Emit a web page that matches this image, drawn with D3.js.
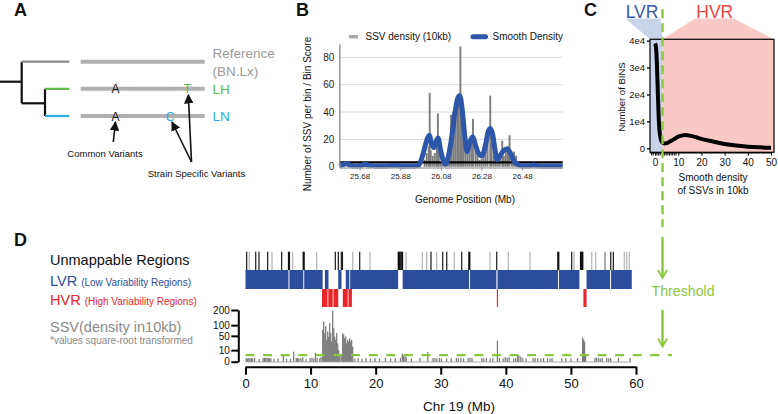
<!DOCTYPE html>
<html><head><meta charset="utf-8">
<script src="https://cdn.jsdelivr.net/npm/d3@7"></script>
<style>
body{margin:0;background:#fff;}
svg{display:block;font-family:"Liberation Sans",Arial,Helvetica,sans-serif;}
</style></head><body>
<svg id="chart" width="778" height="414"></svg>
<script>
// ================= DATA =================
const threshold = 3.2;

// Panel A (schematic)
const strains = ["Reference", "LH", "LN"];
const strainLabels = [["Reference", "(BN.Lx)"], ["LH"], ["LN"]];
const variants = [
  {strain: "LH", pos: 0.28, letter: "A", kind: "common"},
  {strain: "LN", pos: 0.28, letter: "A", kind: "common"},
  {strain: "LH", pos: 0.86, letter: "T", kind: "specific"},
  {strain: "LN", pos: 0.72, letter: "C", kind: "specific"}
];

// Panel B
const bXTicks = [25.68, 25.88, 26.08, 26.28, 26.48];
const bYTicks = [0, 20, 40, 60, 80];
const bSsvDensity = [
  [26.00,5],[26.01,10],[26.02,15],[26.025,54],[26.03,12],[26.04,8],[26.05,10],[26.06,15],
  [26.065,39],[26.07,12],[26.08,3],[26.09,2],[26.10,5],[26.11,8],[26.12,15],[26.13,38],
  [26.14,40],[26.15,45],[26.16,50],[26.168,52],[26.176,88],[26.183,40],[26.19,20],[26.20,12],
  [26.21,10],[26.22,18],[26.23,20],[26.238,35],[26.25,12],[26.26,8],[26.27,5],[26.28,6],
  [26.29,10],[26.30,15],[26.31,22],[26.323,52],[26.33,18],[26.34,8],[26.35,5],[26.36,6],
  [26.37,10],[26.382,19],[26.39,8],[26.40,12],[26.41,15],[26.418,23],[26.43,10],[26.44,11],
  [26.45,8],[26.46,3]
];
const bSmooth = [
  [25.58,0.5],[25.60,1.5],[25.616,2.2],[25.635,1],[25.66,0.4],[25.69,1],[25.706,1.8],[25.73,0.8],
  [25.78,0.3],[25.82,0.5],[25.86,0.8],[25.90,0.4],[25.94,0.3],[25.97,1],[25.99,8],[26.008,18],
  [26.023,23],[26.036,16],[26.046,14],[26.056,18],[26.066,21],[26.08,11],[26.093,4],[26.103,2],
  [26.116,7],[26.132,20],[26.15,40],[26.163,50],[26.173,52],[26.185,42],[26.198,22],[26.209,11],
  [26.222,18],[26.237,22],[26.25,16],[26.265,10],[26.283,8],[26.30,16],[26.314,26],[26.324,28],
  [26.336,23],[26.347,12],[26.357,5],[26.372,8],[26.39,12],[26.407,13],[26.422,10],[26.44,4],
  [26.46,1.5],[26.48,0.5],[26.51,0.5],[26.536,1.2],[26.56,0.5],[26.60,0.3],[26.68,0.3]
];

// Panel C
const cXTicks = [0, 10, 20, 30, 40, 50];
const cYTicks = [0, 10000, 20000, 30000, 40000];
const cRug = [-1.5,-0.8,0.8,1.5,2.2,3.4,4.1,4.8,5.5,6.2,6.9,7.6,8.3,9.0];
const cBinCounts = [
  [0,39000],[0.4,37500],[0.8,31000],[1.2,20000],[1.6,10500],[2.0,5800],[2.5,3200],[3,2200],
  [4,1800],[5,1900],[6,2300],[8,3300],[10,4300],[12,4800],[13,4900],[15,4700],[18,4000],
  [20,3500],[25,2500],[30,1600],[35,1000],[40,600],[45,350],[50,200]
];

// Panel D
const dXTicks = [0, 10, 20, 30, 40, 50, 60];
const dYTicks = [0, 10, 50, 100, 200];
const unmappable = [
  [0.18,"d"],[0.58,"l"],[1.57,"d"],[2.07,"d"],[3.41,"d"],[4.07,"l"],[5.56,"d"],[6.68,"D"],
  [7.25,"l"],[8.94,"D"],[10.94,"l"],[13.8,"d"],[14.26,"d"],[14.72,"d"],[14.9,"d"],[16.47,"l"],
  [17.55,"d"],[19.13,"l"],[23.5,"B"],[23.7,"B"],[23.9,"B"],[24.1,"B"],[24.66,"l"],[27.17,"l"],
  [27.84,"l"],[28.5,"d"],[29.38,"l"],[30.3,"d"],[30.92,"d"],[32.08,"l"],[33.22,"d"],[34.39,"D"],
  [37.57,"l"],[38.6,"d"],[40.38,"l"],[43.72,"l"],[48.06,"D"],[50.12,"d"],[50.48,"l"],
  [51.55,"D"],[51.75,"D"],[53.2,"l"],[53.81,"l"],[55.24,"m"],[56.12,"d"],[56.52,"d"],
  [58.2,"l"],[58.57,"l"],[58.97,"l"]
];
const lvrSegments = [
  [0,6.6],[6.75,8.88],[9.02,11.85],[12.2,12.75],[14.25,14.75],[15.4,15.95],[16.08,23.45],
  [24.15,34.35],[34.5,38.55],[38.72,48.02],[48.17,51.3],[52.4,56.02],[56.17,59.35]
];
const hvrSegments = [
  [11.75,12.6],[12.72,13.4],[13.52,14.25],[14.95,15.7],[15.82,16.35],[38.62,38.8],[51.92,52.4]
];
const dSsv = [
  [0.1,1],[0.3,0.8],[0.5,1],[0.7,0.8],[0.9,1],[1.1,0.8],[1.4,1],[2.1,0.5],[2.7,1],[2.9,1.2],
  [3.1,1],[3.3,1.2],[3.5,1],[3.7,1],[3.9,0.8],[4.4,0.6],[5.0,0.8],[5.8,2.5],[6.3,0.7],[6.9,0.6],
  [7.4,7.5],[7.8,1],[8.0,1],[8.2,0.8],[8.5,1],[8.8,1.5],[9.3,0.6],[9.9,1],[10.2,1.2],[10.5,0.8],
  [10.75,6],[11.0,1],[11.4,0.8],[11.6,1.5],
  [11.86,76],[12.01,121],[12.17,61],[12.32,93],[12.47,36],[12.63,68],[12.78,47],[12.93,111],
  [13.09,61],[13.24,30],[13.39,195],[13.55,84],[13.70,47],[13.86,36],[14.01,61],[14.16,25],[14.32,10],
  [14.5,4],[14.7,3],
  [14.93,61],[15.08,54],[15.24,41],[15.39,47],[15.54,25],[15.70,36],[15.85,30],[16.00,41],
  [16.16,30],[16.31,36],[16.47,17],
  [16.8,0.8],[17.3,1],[17.9,0.7],[18.5,1],[19.2,0.8],[19.9,1],[20.6,0.7],[21.5,1],[22.3,0.8],
  [23.0,1],[23.8,1.2],[24.1,5],[24.3,3],[24.5,2],[24.7,1.5],
  [25.5,0.8],[26.8,1],[28.0,7],[28.8,1],[29.1,1],[29.4,0.8],[29.8,1],[30.1,0.8],[30.9,0.8],
  [31.6,1],[32.4,1],[32.7,0.8],[33.1,1],[33.5,0.8],[34.2,1],[34.5,1.2],[34.8,1],[36.3,1],
  [36.6,0.8],[37.0,1],[37.6,0.8],[38.0,1],[38.7,33],[39.0,1],[39.6,0.8],[39.9,1.5],[40.2,1.2],
  [40.5,1.5],[41.2,0.8],[41.5,1],[41.8,2.5],[42.0,3],[42.3,2],[42.6,1],[43.1,0.8],[44.2,1],
  [44.5,1],[44.9,1],[45.4,0.8],[45.8,1],[46.4,1],[46.8,0.8],[47.1,1],[48.6,0.8],[49.2,1],
  [50.0,0.8],[51.0,1],[51.8,44],[51.95,36],[52.1,30],[52.25,3],[53.7,1],[53.9,1.2],[54.2,1],
  [54.5,0.8],[54.8,1],[55.5,1],[55.8,0.8],[56.1,1],[57.3,1],[59.1,1]
];

// ================= DRAW =================
const svg = d3.select("#chart");
const GREEN = "#8cc63f", LBLUE = "#29abe2", LGREEN = "#5cb848";
const DBLUE = "#2c4c9c", RED = "#e8262b";

svg.append("defs").append("marker")
  .attr("id","arr").attr("viewBox","0 0 10 10").attr("refX",9).attr("refY",5)
  .attr("markerWidth",6).attr("markerHeight",6).attr("orient","auto-start-reverse")
  .append("path").attr("d","M0,0 L10,5 L0,10 z").attr("fill","#111");

function panelLabel(t, x, y){
  svg.append("text").attr("x",x).attr("y",y).attr("font-size",18).attr("font-weight","bold")
    .attr("fill","#111").text(t);
}
panelLabel("A",14,16); panelLabel("B",296,16); panelLabel("C",584,16); panelLabel("D",14,246);

// ---------- Panel A ----------
{
  const yA = d3.scalePoint().domain(strains).range([61.7,116]);
  const xA = d3.scaleLinear().domain([0,1]).range([80.7,204.7]);
  const col = {Reference:"#888", LH:LGREEN, LN:LBLUE};
  const labCol = {Reference:"#9a9a9a", LH:LGREEN, LN:LBLUE};
  const g = svg.append("g").attr("stroke-width",2.2).attr("fill","none");
  g.append("line").attr("x1",0).attr("x2",21.7).attr("y1",81.7).attr("y2",81.7).attr("stroke","#111");
  g.append("line").attr("x1",21.7).attr("x2",21.7).attr("y1",yA("Reference")).attr("y2",103.3).attr("stroke","#111");
  g.append("line").attr("x1",21.7).attr("x2",45).attr("y1",103.3).attr("y2",103.3).attr("stroke","#111");
  g.append("line").attr("x1",45).attr("x2",45).attr("y1",yA("LH")).attr("y2",yA("LN")).attr("stroke","#111");
  strains.forEach((s,i)=>{
    g.append("line").attr("x1", i===0?21.7:45).attr("x2",69.3).attr("y1",yA(s)).attr("y2",yA(s)).attr("stroke",col[s]);
    g.append("line").attr("x1",xA(0)).attr("x2",xA(1)).attr("y1",yA(s)).attr("y2",yA(s))
      .attr("stroke","#b0b0b0").attr("stroke-width",4);
    strainLabels[i].forEach((t,j)=>{
      svg.append("text").attr("x",212.5).attr("y", (strainLabels[i].length>1 ? yA(s)-8.5+j*17.5 : yA(s)) + 5)
        .attr("font-size",13.5).attr("fill",labCol[s]).text(t);
    });
  });
  const vcol = {LH:LGREEN, LN:LBLUE};
  variants.forEach(v=>{
    svg.append("text").attr("x",xA(v.pos)).attr("y",yA(v.strain)+4.5).attr("text-anchor","middle")
      .attr("font-size",12).attr("fill", v.kind==="common" ? "#111" : vcol[v.strain]).text(v.letter);
  });
  const arrowG = svg.append("g").attr("stroke","#111").attr("stroke-width",1.6);
  arrowG.append("line").attr("x1",113.3).attr("y1",142).attr("x2",xA(0.28)).attr("y2",yA("LN")+6)
    .attr("marker-end","url(#arr)");
  arrowG.append("line").attr("x1",191.5).attr("y1",162).attr("x2",xA(0.86)+1).attr("y2",yA("LH")+6)
    .attr("marker-end","url(#arr)");
  arrowG.append("line").attr("x1",191.5).attr("y1",162).attr("x2",xA(0.72)+2).attr("y2",yA("LN")+6)
    .attr("marker-end","url(#arr)");
  svg.append("text").attr("x",105).attr("y",157).attr("text-anchor","middle").attr("font-size",9.5)
    .attr("fill","#111").text("Common Variants");
  svg.append("text").attr("x",196.5).attr("y",177).attr("text-anchor","middle").attr("font-size",9.5)
    .attr("fill","#111").text("Strain Specific Variants");
}

// ---------- Panel B ----------
{
  const xB = d3.scaleLinear().domain([25.58, 26.68]).range([339.3, 562.7]);
  const yB = d3.scaleLinear().domain([0, 90]).range([166.7, 43.7]);
  const g = svg.append("g");
  g.selectAll(".grid").data(bYTicks.filter(d=>d>0)).join("line")
    .attr("x1",xB(25.58)).attr("x2",xB(26.68)).attr("y1",d=>yB(d)).attr("y2",d=>yB(d))
    .attr("stroke","#dadada").attr("stroke-width",1);
  g.selectAll(".bar").data(bSsvDensity).join("rect")
    .attr("x",d=>xB(d[0])-0.9).attr("width",1.9)
    .attr("y",d=>yB(d[1])).attr("height",d=>yB(0)-yB(d[1])).attr("fill","#7d7d7d");
  g.append("line").attr("x1",xB(25.58)).attr("x2",xB(26.68)).attr("y1",yB(threshold)).attr("y2",yB(threshold))
    .attr("stroke","#000").attr("stroke-width",2.2);
  const line = d3.line().x(d=>xB(d[0])).y(d=>yB(d[1])).curve(d3.curveMonotoneX);
  g.append("path").datum(bSmooth).attr("d",line).attr("fill","none").attr("stroke","#2d55a8")
    .attr("stroke-width",5).attr("stroke-linejoin","round");
  const yAx = g.append("g").attr("transform",`translate(${xB(25.58)},0)`)
    .call(d3.axisLeft(yB).tickValues(bYTicks).tickSize(0).tickPadding(5).tickSizeOuter(0));
  yAx.select(".domain").attr("stroke","#999").attr("stroke-width",1.5);
  yAx.selectAll("text").attr("font-size",10).attr("fill","#222").attr("font-family","Liberation Sans, Arial");
  const xAx = g.append("g").attr("transform",`translate(0,${yB(0)+0.8})`)
    .call(d3.axisBottom(xB).tickValues(bXTicks).tickSize(3).tickSizeOuter(0).tickFormat(d3.format(".2f")));
  xAx.select(".domain").attr("stroke","#aaa").attr("stroke-width",1.5);
  xAx.selectAll("line").attr("stroke","#888");
  xAx.selectAll("text").attr("font-size",8).attr("fill","#222").attr("font-family","Liberation Sans, Arial");
  g.append("text").attr("transform","translate(311,114) rotate(-90)").attr("text-anchor","middle")
    .attr("font-size",10).attr("fill","#111").text("Number of SSV per bin / Bin Score");
  g.append("text").attr("x",465).attr("y",203).attr("text-anchor","middle").attr("font-size",10)
    .attr("fill","#111").text("Genome Position (Mb)");
  g.append("rect").attr("x",349).attr("y",35).attr("width",9).attr("height",3.5).attr("fill","#aaa");
  g.append("text").attr("x",365.5).attr("y",40).attr("font-size",10).attr("fill","#111").text("SSV density (10kb)");
  g.append("line").attr("x1",473).attr("x2",485.5).attr("y1",36.8).attr("y2",36.8)
    .attr("stroke","#2d55a8").attr("stroke-width",5).attr("stroke-linecap","round");
  g.append("text").attr("x",492.5).attr("y",40).attr("font-size",10).attr("fill","#111").text("Smooth Density");
}

// ---------- Panel C ----------
{
  const xC = d3.scaleLinear().domain([-2.2, 51.3]).range([650, 774]);
  const yC = d3.scaleLinear().domain([-1500, 40500]).range([152.3, 39.3]);
  const g = svg.append("g");
  const x0 = xC(-2.2), x1 = xC(51.3), xt = xC(threshold), yTop = yC(40500), yBot = yC(-1500);
  g.append("rect").attr("x",x0).attr("y",yTop).attr("width",xt-x0).attr("height",yBot-yTop).attr("fill","#c9d3ea");
  g.append("rect").attr("x",xt).attr("y",yTop).attr("width",x1-xt).attr("height",yBot-yTop).attr("fill","#f9c9c5");
  g.append("path").attr("d",`M625,18.6 L660.5,18.6 L${xt},${yTop} L${x0},${yTop} Z`).attr("fill","#c9d3ea");
  g.append("path").attr("d",`M695,18.6 L733.5,18.6 L${x1},${yTop} L${xt},${yTop} Z`).attr("fill","#f9c9c5");
  g.append("text").attr("x",642).attr("y",18.3).attr("text-anchor","middle").attr("font-size",17.5)
    .attr("fill","#3a5aa8").text("LVR");
  g.append("text").attr("x",714.8).attr("y",18.3).attr("text-anchor","middle").attr("font-size",17.5)
    .attr("fill","#e8453f").text("HVR");
  g.append("rect").attr("x",x0).attr("y",yTop).attr("width",x1-x0).attr("height",yBot-yTop)
    .attr("fill","none").attr("stroke","#111").attr("stroke-width",1.3);
  const line = d3.line().x(d=>xC(d[0])).y(d=>yC(d[1])).curve(d3.curveMonotoneX);
  g.append("path").datum(cBinCounts).attr("d",line).attr("fill","none").attr("stroke","#000")
    .attr("stroke-width",4).attr("stroke-linejoin","round");
  const yAx = g.append("g").attr("transform",`translate(${x0},0)`)
    .call(d3.axisLeft(yC).tickValues(cYTicks).tickSize(3).tickPadding(2).tickSizeOuter(0)
      .tickFormat(d=> d===0 ? "0" : (d/1e4)+"e4"));
  yAx.select(".domain").remove();
  yAx.selectAll("line").attr("stroke-width",1.3);
  yAx.selectAll("text").attr("font-size",9.5).attr("fill","#111").attr("font-family","Liberation Sans, Arial");
  const xAx = g.append("g").attr("transform",`translate(0,${yBot+0.5})`)
    .call(d3.axisBottom(xC).tickValues(cXTicks).tickSize(3).tickPadding(3).tickSizeOuter(0));
  xAx.select(".domain").attr("stroke-width",1.6).attr("d",`M${x0},0H${xC(50.3)}`);
  xAx.selectAll("text").attr("font-size",10).attr("fill","#111").attr("font-family","Liberation Sans, Arial");
  g.selectAll(".rug").data(cRug).join("line").attr("x1",d=>xC(d)).attr("x2",d=>xC(d))
    .attr("y1",yBot+0.5).attr("y2",yBot+3.2).attr("stroke","#111").attr("stroke-width",1);
  g.append("text").attr("transform","translate(624.5,97) rotate(-90)").attr("text-anchor","middle")
    .attr("font-size",9.5).attr("fill","#111").text("Number of BINS");
  g.append("text").attr("x",713).attr("y",181).attr("text-anchor","middle").attr("font-size",10)
    .attr("fill","#111").text("Smooth density");
  g.append("text").attr("x",713).attr("y",194).attr("text-anchor","middle").attr("font-size",10)
    .attr("fill","#111").text("of SSVs in 10kb");
}

// ---------- Panel D ----------
{
  const xD = d3.scaleLinear().domain([0, 60]).range([245.5, 636]);
  const yD = d3.scaleSqrt().domain([0, 200]).range([361.7, 310]);
  const g = svg.append("g");
  const uCol = {d:"#1a1a1a", D:"#111", B:"#111", l:"#b3b3b3", m:"#777"};
  const uW = {d:1.2, D:2.2, B:1.6, l:1.2, m:1.2};
  g.selectAll(".unm").data(unmappable).join("rect")
    .attr("x",d=>xD(d[0])-uW[d[1]]/2).attr("width",d=>uW[d[1]])
    .attr("y",251.7).attr("height",18.3).attr("fill",d=>uCol[d[1]]);
  g.selectAll(".lvr").data(lvrSegments).join("rect")
    .attr("x",d=>xD(d[0])).attr("width",d=>Math.max(1,xD(d[1])-xD(d[0])))
    .attr("y",270).attr("height",19).attr("fill",DBLUE);
  g.selectAll(".hvr").data(hvrSegments).join("rect")
    .attr("x",d=>xD(d[0])).attr("width",d=>Math.max(1,xD(d[1])-xD(d[0])))
    .attr("y",289).attr("height",18).attr("fill",RED);
  g.append("line").attr("x1",xD(0)).attr("x2",xD(59.3)).attr("y1",yD(0)+0.3).attr("y2",yD(0)+0.3)
    .attr("stroke","#aaa").attr("stroke-width",1);
  g.selectAll(".ssv").data(dSsv).join("rect")
    .attr("x",d=>xD(d[0])-0.6).attr("width",1.25)
    .attr("y",d=>yD(d[1])).attr("height",d=>yD(0)-yD(d[1])).attr("fill","#7a7a7a");
  g.append("line").attr("x1",xD(0)).attr("x2",672).attr("y1",yD(threshold)).attr("y2",yD(threshold))
    .attr("stroke",GREEN).attr("stroke-width",2.4).attr("stroke-dasharray","9,8.6");
  const yAx = g.append("g").attr("transform","translate(238.3,0)")
    .call(d3.axisLeft(yD).tickValues(dYTicks).tickSize(7).tickPadding(1.5).tickSizeOuter(0));
  yAx.select(".domain").attr("stroke-width",2);
  yAx.selectAll("line").attr("stroke-width",2);
  yAx.selectAll("text").attr("font-size",10).attr("fill","#111").attr("font-family","Liberation Sans, Arial");
  const xAx = g.append("g").attr("transform","translate(0,366.7)")
    .call(d3.axisBottom(xD).tickValues(dXTicks).tickSize(8).tickPadding(4).tickSizeOuter(0));
  xAx.select(".domain").attr("stroke-width",2);
  xAx.selectAll("line").attr("stroke-width",2);
  xAx.selectAll("text").attr("font-size",13).attr("fill","#111").attr("font-family","Liberation Sans, Arial");
  g.append("text").attr("x",459).attr("y",411).attr("text-anchor","middle").attr("font-size",13.5)
    .attr("fill","#111").text("Chr 19 (Mb)");
  g.append("text").attr("x",50).attr("y",265).attr("font-size",14.5).attr("fill","#111").text("Unmappable Regions");
  const t1 = g.append("text").attr("x",50).attr("y",286).attr("fill",DBLUE);
  t1.append("tspan").attr("font-size",14.5).text("LVR");
  t1.append("tspan").attr("font-size",10).attr("dx",4).text("(Low Variability Regions)");
  const t2 = g.append("text").attr("x",50).attr("y",304.5).attr("fill",RED);
  t2.append("tspan").attr("font-size",14.5).text("HVR");
  t2.append("tspan").attr("font-size",10).attr("dx",4).text("(High Variability Regions)");
  g.append("text").attr("x",50).attr("y",331.5).attr("font-size",14.5).attr("fill","#8a8a8a").text("SSV(density in10kb)");
  g.append("text").attr("x",50).attr("y",343.5).attr("font-size",10).attr("fill","#8a8a8a").text("*values square-root transformed");

  const xT = d3.scaleLinear().domain([-2.2, 51.3]).range([650, 774])(threshold);
  const cg = svg.append("g").attr("stroke",GREEN).attr("stroke-width",2.4).attr("fill","none");
  cg.append("line").attr("x1",xT).attr("x2",xT).attr("y1",9.3).attr("y2",227).attr("stroke-dasharray","9,5");
  cg.append("line").attr("x1",xT).attr("x2",xT).attr("y1",237).attr("y2",277);
  cg.append("polyline").attr("points",`${xT-4.5},270 ${xT},278 ${xT+4.5},270`).attr("stroke-width",1.8);
  cg.append("line").attr("x1",xT).attr("x2",xT).attr("y1",310).attr("y2",346);
  cg.append("polyline").attr("points",`${xT-4.5},338.5 ${xT},346.5 ${xT+4.5},338.5`).attr("stroke-width",1.8);
  svg.append("text").attr("x",651.5).attr("y",296).attr("font-size",14.2).attr("fill",GREEN).text("Threshold");
}
</script>
</body></html>
